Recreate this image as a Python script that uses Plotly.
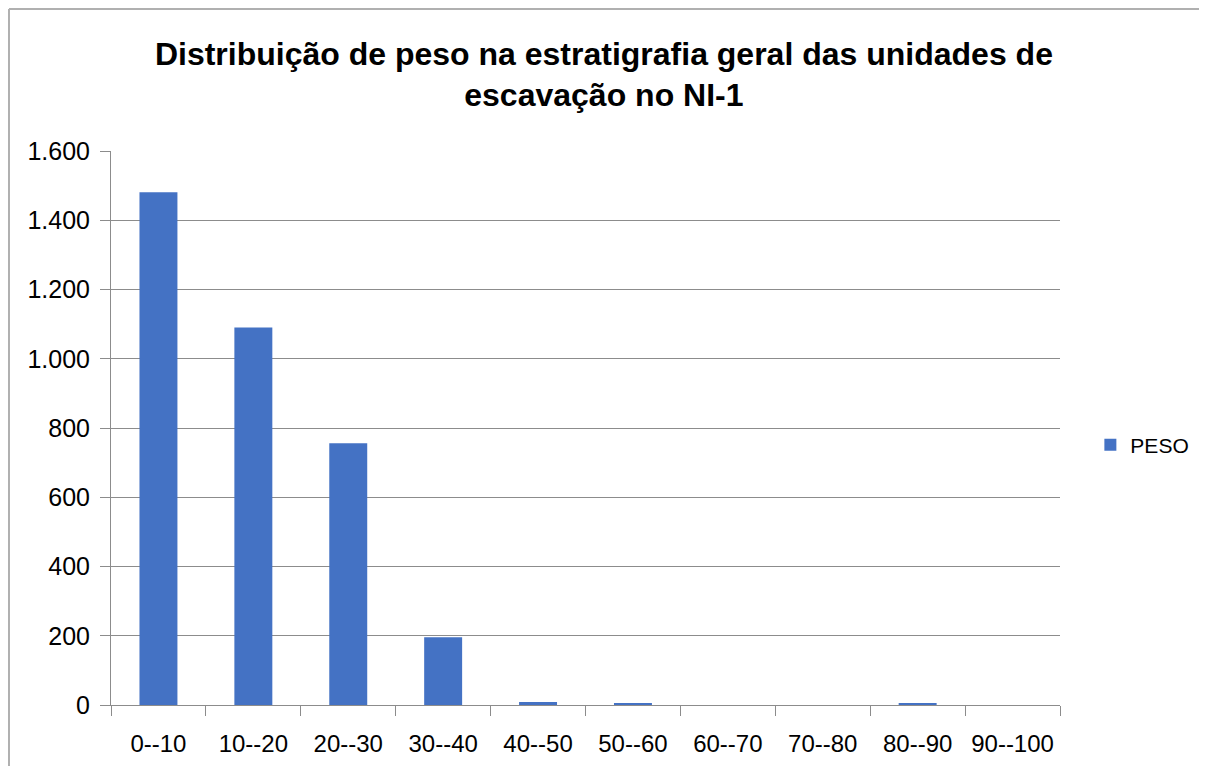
import plotly.graph_objects as go

# intervalos de profundidade (cm) e peso
categorias = ["0--10", "10--20", "20--30", "30--40", "40--50",
              "50--60", "60--70", "70--80", "80--90", "90--100"]
peso = [1481, 1090, 756, 196, 9, 3, 0, 0, 3, 0]
ticks_y = [0, 200, 400, 600, 800, 1000, 1200, 1400, 1600]

FONTE = "Liberation Sans, Arial, sans-serif"
GRADE = "#8c8c8c"

fig = go.Figure()
fig.add_trace(go.Bar(
    x=categorias, y=peso, name="PESO",
    marker=dict(color="#4472c4", line=dict(width=0)),
    width=0.4,
))

# a página tem 8px de margem no body: figura um pouco menor
fig.update_layout(
    width=1199, height=758,
    paper_bgcolor="white", plot_bgcolor="white",
    separators=",.",
    margin=dict(l=103, r=147, t=143, b=61, autoexpand=False),
    title=dict(
        text="<b>Distribuição de peso na estratigrafia geral das unidades de<br>escavação no NI-1</b>",
        x=0.497, xanchor="center", xref="container",
        y=0.925, yanchor="top", yref="container",
        font=dict(family=FONTE, size=32, color="black"),
    ),
    font=dict(family=FONTE, size=25, color="black"),
    showlegend=True,
    legend=dict(x=1.032, y=0.469, xanchor="left", yanchor="middle",
                font=dict(size=21), itemwidth=30),
)

fig.update_xaxes(
    type="category", tickson="boundaries",
    showline=True, linecolor=GRADE, linewidth=1,
    ticks="outside", ticklen=10, tickcolor=GRADE,
    tickangle=0, tickfont=dict(size=24),
    ticklabelstandoff=17,
    showgrid=False,
)
fig.update_yaxes(
    range=[0, 1600], tickvals=ticks_y, tickformat=",d",
    showgrid=True, gridcolor=GRADE, gridwidth=1,
    showline=True, linecolor=GRADE, linewidth=1,
    ticks="outside", ticklen=10, tickcolor=GRADE,
    ticklabelstandoff=5,
    zeroline=False,
)

# moldura externa (só esquerda e topo visíveis)
fig.add_shape(type="line", xref="paper", yref="paper",
              x0=-0.1075, x1=-0.1075, y0=-0.12, y1=1.2563,
              line=dict(color="#b0b0b0", width=2))
fig.add_shape(type="line", xref="paper", yref="paper",
              x0=-0.1075, x1=1.16, y0=1.2563, y1=1.2563,
              line=dict(color="#b0b0b0", width=2))

fig.write_html("out.html")
